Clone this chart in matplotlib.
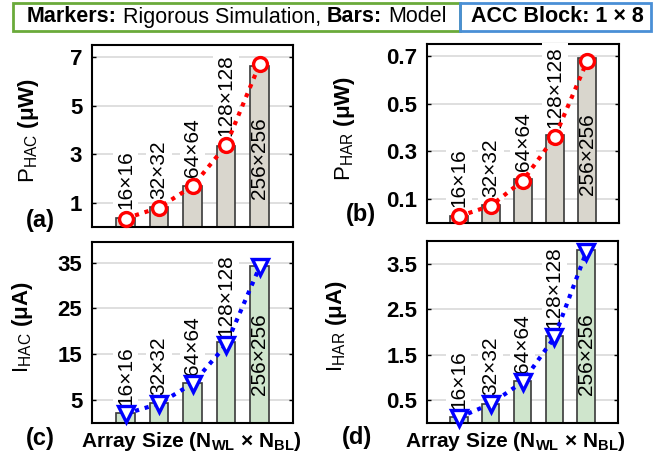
import numpy as np
import matplotlib
matplotlib.use("Agg")
import matplotlib.pyplot as plt
from matplotlib.patches import Rectangle
import matplotlib.transforms as mtransforms

plt.rcParams["font.family"] = ["Liberation Sans", "DejaVu Sans"]
plt.rcParams["mathtext.fontset"] = "custom"
plt.rcParams["mathtext.rm"] = "Liberation Sans"
plt.rcParams["mathtext.bf"] = "Liberation Sans:bold"
plt.rcParams["mathtext.it"] = "Liberation Sans:italic"

# data
sizes = ["16×16", "32×32", "64×64", "128×128", "256×256"]
p_hac_model = [0.37, 0.82, 1.68, 3.33, 6.63]
p_hac_sim = [0.35, 0.80, 1.68, 3.36, 6.70]
p_har_model = [0.030, 0.075, 0.185, 0.370, 0.690]
p_har_sim = [0.028, 0.073, 0.178, 0.362, 0.677]
i_hac_model = [2.1, 4.4, 8.8, 17.6, 34.3]
i_hac_sim = [2.0, 4.2, 8.6, 17.0, 34.0]
i_har_model = [0.14, 0.42, 0.92, 1.92, 3.80]
i_har_sim = [0.12, 0.42, 0.90, 1.88, 3.75]

W, H = 665, 461
fig = plt.figure(figsize=(W / 100, H / 100), dpi=100)


def px_rect(left, top, right, bottom):
    return [left / W, (H - bottom) / H, (right - left) / W, (bottom - top) / H]


panels = [
    dict(rect=px_rect(92, 45, 293, 227), model=p_hac_model, sim=p_hac_sim,
         ylim=(0, 7.5), yticks=[1, 3, 5, 7], yfmt="{:g}",
         ylabel=r"$\mathrm{P_{HAC}}$ $\mathbf{(μW)}$", lx=-0.255,
         bar="#d9d6cd", line="#ff0000", marker="o", ms=10),
    dict(rect=px_rect(427, 44, 619, 223), model=p_har_model, sim=p_har_sim,
         ylim=(0, 0.75), yticks=[0.1, 0.3, 0.5, 0.7], yfmt="{:.1f}",
         ylabel=r"$\mathrm{P_{HAR}}$ $\mathbf{(μW)}$", lx=-0.365,
         bar="#d9d6cd", line="#ff0000", marker="o", ms=10),
    dict(rect=px_rect(92, 242, 293, 423), model=i_hac_model, sim=i_hac_sim,
         ylim=(0, 39.5), yticks=[5, 15, 25, 35], yfmt="{:g}",
         ylabel=r"$\mathrm{I_{HAC}}$ $\mathbf{(μA)}$", lx=-0.285,
         bar="#cfe5cc", line="#0000ff", marker="v", ms=11),
    dict(rect=px_rect(427, 241, 618, 423), model=i_har_model, sim=i_har_sim,
         ylim=(0, 4.0), yticks=[0.5, 1.5, 2.5, 3.5], yfmt="{:.1f}",
         ylabel=r"$\mathrm{I_{HAR}}$ $\mathbf{(μA)}$", lx=-0.41,
         bar="#cfe5cc", line="#0000ff", marker="v", ms=11),
]

x = np.arange(1, len(sizes) + 1)

for p in panels:
    ax = fig.add_axes(p["rect"])
    ax.set_axisbelow(True)
    ax.bar(x, p["model"], width=0.55, color=p["bar"], edgecolor="#3a3a3a",
           linewidth=1.2, zorder=2)
    ax.plot(x, p["sim"], linestyle=(0, (1, 1.4)), linewidth=3, color=p["line"],
            marker=p["marker"], markersize=p["ms"], markerfacecolor="white",
            markeredgecolor=p["line"], markeredgewidth=2.4, zorder=5,
            clip_on=False)

    # array size labels, the last one sits inside its bar
    trans = mtransforms.blended_transform_factory(ax.transData, ax.transAxes)
    for i, lab in enumerate(sizes):
        if i == len(sizes) - 1:
            ax.text(x[i], 0.155, lab, rotation=90, ha="center", va="bottom",
                    fontsize=15, transform=trans, zorder=3)
        else:
            ax.annotate(lab, (x[i], p["sim"][i]), xytext=(0, 6.5),
                        textcoords="offset points", rotation=90,
                        ha="center", va="bottom", fontsize=15, zorder=3,
                        annotation_clip=False,
                        bbox=dict(boxstyle="square,pad=0.15", fc="white",
                                  ec="none"))

    ax.set_xlim(0, 6)
    ax.set_ylim(*p["ylim"])
    ax.set_xticks([])
    ax.set_yticks(p["yticks"])
    ax.set_yticklabels([p["yfmt"].format(v) for v in p["yticks"]],
                       fontsize=16, fontweight="bold")
    ax.tick_params(axis="y", direction="in", length=3, width=1, right=True,
                   pad=7)
    ax.grid(axis="y", color="#d9d9d9", linewidth=1.2)
    for s in ax.spines.values():
        s.set_linewidth(1.5)
        s.set_color("black")
    ax.set_ylabel(p["ylabel"], fontsize=16)
    ax.yaxis.set_label_coords(p["lx"], 0.53)

# panel letters and x labels
fig.text(40 / W, 1 - 220 / H, "(a)", fontsize=17, fontweight="bold",
         ha="center", va="center")
fig.text(361 / W, 1 - 215 / H, "(b)", fontsize=17, fontweight="bold",
         ha="center", va="center")
fig.text(40 / W, 1 - 438 / H, "(c)", fontsize=17, fontweight="bold",
         ha="center", va="center")
fig.text(357 / W, 1 - 437 / H, "(d)", fontsize=17, fontweight="bold",
         ha="center", va="center")
xlab = r"Array Size (N$_{\mathbf{WL}}$ × N$_{\mathbf{BL}}$)"
fig.text(191 / W, 1 - 441 / H, xlab, fontsize=15, fontweight="bold",
         ha="center", va="center")
fig.text(515 / W, 1 - 441 / H, xlab, fontsize=15, fontweight="bold",
         ha="center", va="center")

# header boxes
fig.add_artist(Rectangle((13 / W, 1 - 31 / H), (460 - 13) / W, 28 / H,
                         transform=fig.transFigure, fill=False,
                         edgecolor="#6aaa3a", linewidth=2))
fig.add_artist(Rectangle((460 / W, 1 - 31 / H), (651 - 460) / W, 28 / H,
                         transform=fig.transFigure, fill=False,
                         edgecolor="#4a8fd6", linewidth=2))

renderer = fig.canvas.get_renderer()
HEAD_FS = 15.5


def text_width(s, weight):
    t = fig.text(0, 0, s, fontsize=HEAD_FS, fontweight=weight)
    w = t.get_window_extent(renderer).width
    t.remove()
    return w


space = text_width("a a", "normal") - text_width("aa", "normal")
pieces = [("Markers:", "bold"), ("Rigorous Simulation,", "normal"),
          ("Bars:", "bold"), ("Model", "normal")]
xpos = 27.0
for s, w in pieces:
    fig.text(xpos / W, 1 - 17 / H, s, fontsize=HEAD_FS, fontweight=w,
             ha="left", va="center")
    xpos += text_width(s, w) + space
fig.text(471 / W, 1 - 17 / H, "ACC Block: 1 × 8", fontsize=HEAD_FS,
         fontweight="bold", ha="left", va="center")

fig.savefig("out.png", dpi=100)
